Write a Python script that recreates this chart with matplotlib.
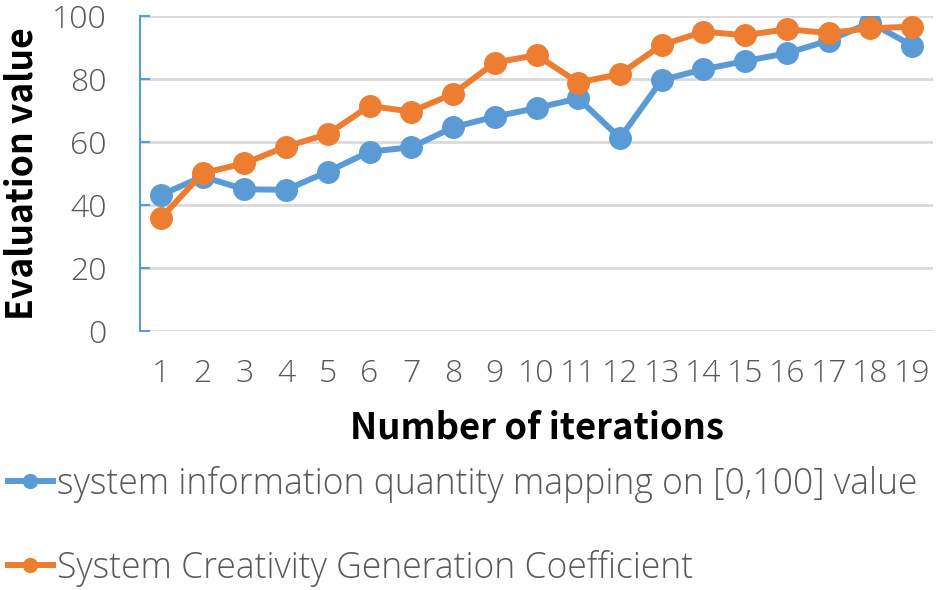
import matplotlib
matplotlib.use('Agg')
import matplotlib.pyplot as plt
from matplotlib.lines import Line2D

# data
iterations = list(range(1, 20))
info_mapping = [43.2, 49.0, 45.0, 44.8, 50.6, 56.9, 58.3, 64.6, 68.0, 70.7,
                73.8, 61.2, 79.6, 83.0, 85.6, 88.1, 92.1, 97.8, 90.5]
creativity = [35.8, 50.1, 53.2, 58.5, 62.5, 71.4, 69.6, 75.2, 85.1, 87.5,
              78.8, 81.5, 90.7, 94.9, 93.8, 95.7, 94.5, 96.0, 96.5]
series_names = ['system information quantity mapping on [0,100] value',
                'System Creativity Generation Coefficient']
y_ticks = [0, 20, 40, 60, 80, 100]

blue = '#5B9BD5'
orange = '#ED7D31'
grey_text = '#595959'
font_light = 'Open Sans'
font_bold = ['Noto Sans CJK SC', 'DejaVu Sans']

fig = plt.figure(figsize=(9.36, 5.9), dpi=100)
ax = fig.add_axes([140 / 936, 0.4385, 793 / 936, 0.535])

ax.plot(iterations, info_mapping, color=blue, lw=4.3, marker='o', ms=15.5,
        solid_capstyle='round', zorder=3)
ax.plot(iterations, creativity, color=orange, lw=4.3, marker='o', ms=15.5,
        solid_capstyle='round', zorder=4)

ax.set_xlim(0.5, 19.5)
ax.set_ylim(0, 100)
ax.set_xticks(iterations)
ax.set_yticks(y_ticks)
ax.grid(axis='y', color='#d9d9d9', lw=2)
ax.set_axisbelow(True)
for s in ['top', 'right', 'bottom']:
    ax.spines[s].set_visible(False)
ax.spines['left'].set_color(blue)
ax.spines['left'].set_linewidth(1.5)
ax.tick_params(axis='y', direction='in', length=7, width=1.5, color=blue,
               pad=24, labelsize=23, labelcolor=grey_text)
ax.tick_params(axis='x', length=0, pad=19, labelsize=23, labelcolor=grey_text)
for lab in ax.get_xticklabels() + ax.get_yticklabels():
    lab.set_fontfamily(font_light)
    lab.set_fontweight('light')

ax.set_xlabel('Number of iterations', fontsize=26.2, fontweight='bold',
              fontfamily=font_bold, labelpad=14)
ax.set_ylabel('Evaluation value', fontsize=25.6, fontweight='bold',
              fontfamily=font_bold, labelpad=8)

handles = [Line2D([], [], color=blue, lw=4.3, marker='o', ms=10),
           Line2D([], [], color=orange, lw=4.3, marker='o', ms=10)]
fig.legend(handles, series_names, loc='center left', bbox_to_anchor=(8 / 936, 0.108),
           frameon=False, handlelength=1.26, handletextpad=0.11, labelspacing=1.33,
           borderpad=0, borderaxespad=0,
           prop={'family': font_light, 'weight': 'light', 'size': 25.6},
           labelcolor=grey_text)

fig.savefig('out.png', dpi=100)
